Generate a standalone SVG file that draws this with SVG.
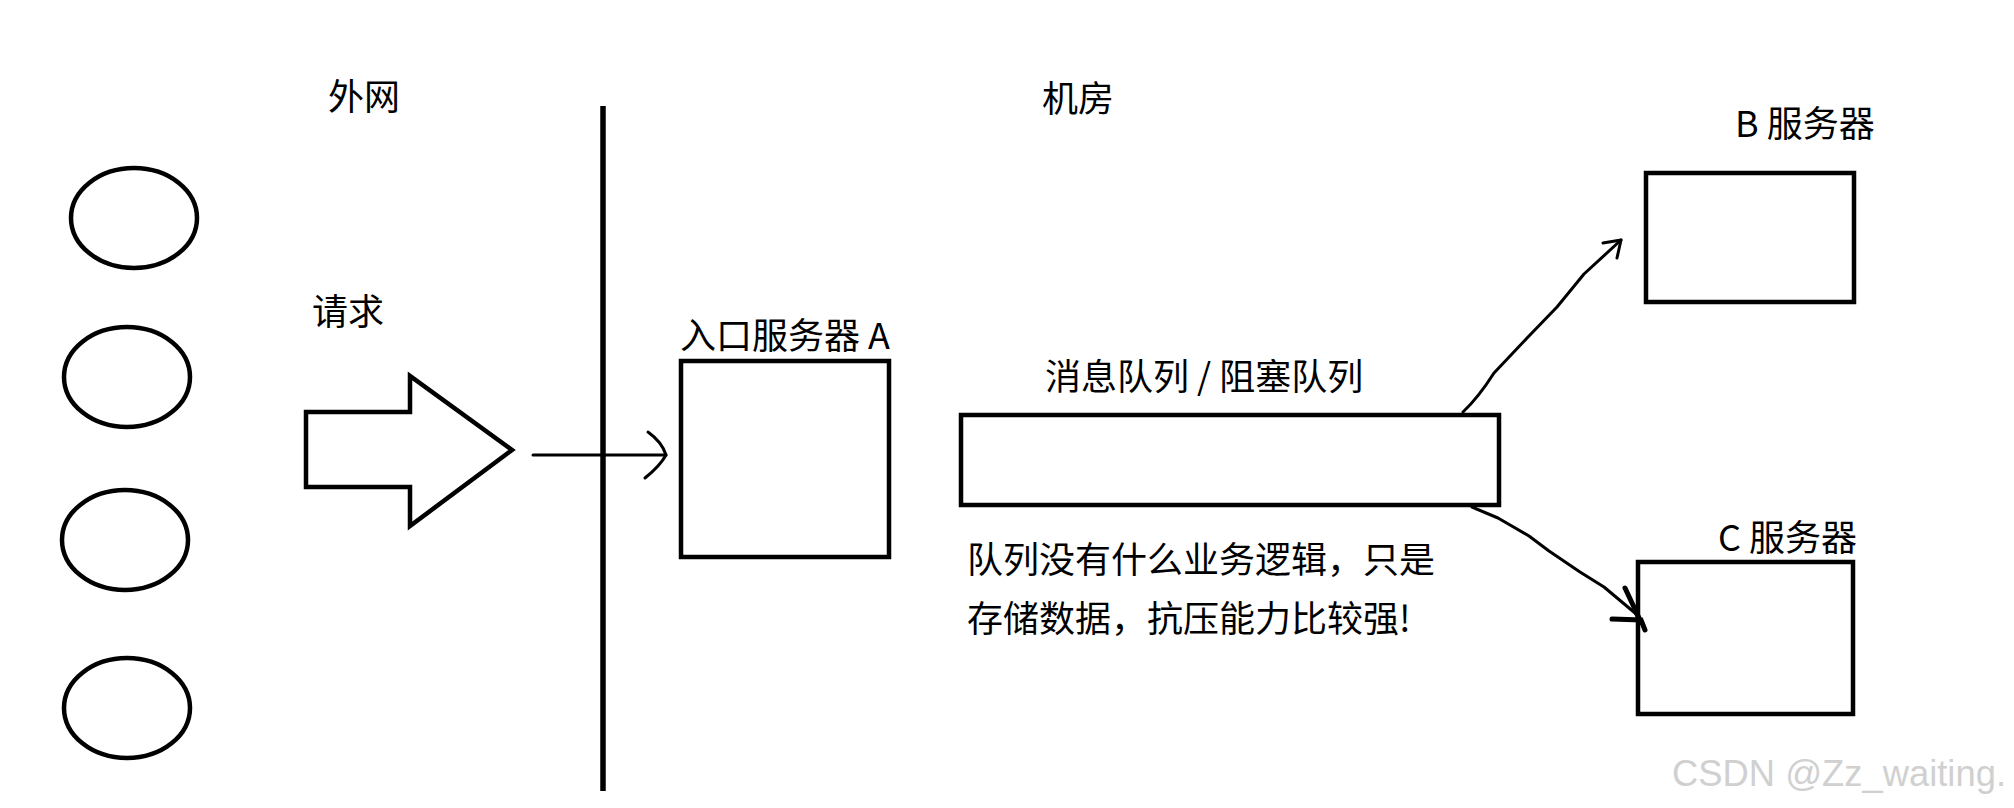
<svg xmlns="http://www.w3.org/2000/svg" width="2014" height="808" viewBox="0 0 2014 808">
<style>
text{font-family:"Noto Sans CJK SC","Liberation Sans",sans-serif;font-size:36px;fill:#000}
.s{fill:none;stroke:#000;stroke-width:4.5}
.c{fill:none;stroke:#000;stroke-width:3;stroke-linecap:round;stroke-linejoin:round}
.wm{fill:#d0d0d0;font-family:"Liberation Sans",sans-serif;font-size:36px}
</style>
<rect width="2014" height="808" fill="#fff"/>
<g id="labels">
<text x="328" y="110">外网</text>
<text x="1042" y="112">机房</text>
<text x="312" y="325">请求</text>
</g>
<line id="divider" x1="603" y1="106" x2="603" y2="791" stroke="#000" stroke-width="5.5"/>
<g id="clients">
<ellipse cx="134" cy="218" rx="63" ry="50" class="s"/>
<ellipse cx="127" cy="377" rx="63" ry="50" class="s"/>
<ellipse cx="125" cy="540" rx="63" ry="50" class="s"/>
<ellipse cx="127" cy="708" rx="63" ry="50" class="s"/>
</g>
<g id="request-arrow">
<polygon points="306,412 410,412 410,376 512,450 410,526 410,487 306,487" class="s"/>
</g>
<g id="serverA">
<rect x="681" y="361" width="208" height="196" class="s"/>
<text x="680" y="349">入口服务器 A</text>
</g>
<g id="queue">
<rect x="961" y="415" width="538" height="90" class="s"/>
<text x="1045" y="390">消息队列 / 阻塞队列</text>
<text x="967" y="573">队列没有什么业务逻辑，只是</text>
<text x="967" y="632">存储数据，抗压能力比较强!</text>
</g>
<g id="serverB">
<rect x="1646" y="173" width="208" height="129" class="s"/>
<text x="1735" y="137">B 服务器</text>
</g>
<g id="serverC">
<rect x="1638" y="562" width="215" height="152" class="s"/>
<text x="1718" y="551">C 服务器</text>
</g>
<g id="connectors">
<path class="c" d="M533,455 L666,455"/>
<path class="c" d="M648,432 Q662,442 666,455 Q660,466 645,478"/>
<path class="c" d="M1463,412 Q1478,398 1494,373 L1529,336 L1557,307 L1584,274 L1621,240"/>
<path class="c" d="M1603,243 L1621,240 L1617,258"/>
<path class="c" d="M1472,507 L1498,518 L1529,536 L1549,551 L1580,572 L1604,587 L1635,613 L1645,629"/>
<path fill="none" stroke="#000" stroke-width="5" stroke-linecap="round" d="M1625,588 L1640,620 M1612,619 L1641,620 L1645,630"/>
</g>
<text class="wm" x="1672" y="786" textLength="334" lengthAdjust="spacingAndGlyphs">CSDN @Zz_waiting.</text>
</svg>
